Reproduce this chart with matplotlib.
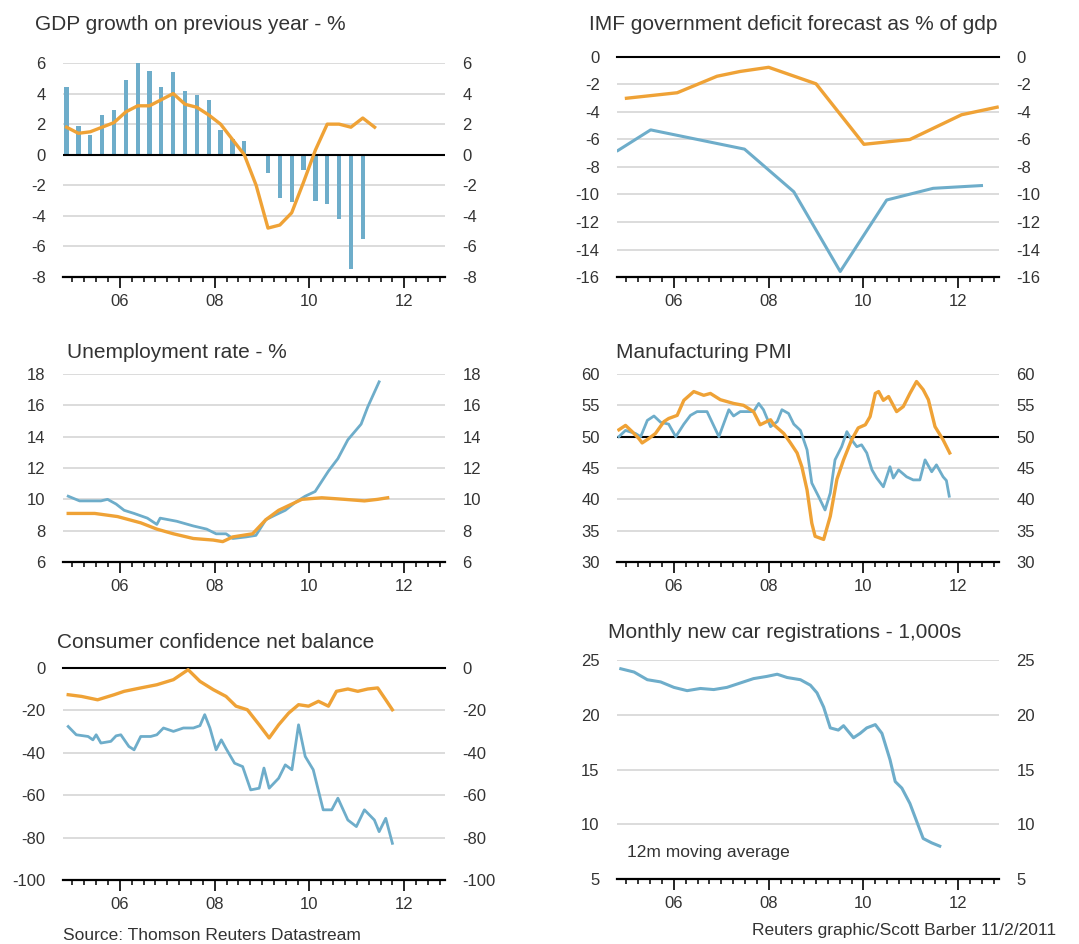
"""Six-panel economic dashboard (Reuters style)."""
import matplotlib
import numpy as np

matplotlib.use('Agg')
import matplotlib.pyplot as plt

plt.rcParams['font.family'] = ['Liberation Sans', 'DejaVu Sans']
plt.rcParams['axes.unicode_minus'] = False

BLUE = '#6eadca'
ORANGE = '#efa236'
TXT = '#333333'

# --- GDP growth on previous year (quarterly) ---
gdp_start = 2004.875
gdp_bars = [4.4, 1.9, 1.3, 2.6, 2.9, 4.9, 6.0, 5.5, 4.4, 5.4, 4.2, 3.9, 3.6,
            1.6, 1.05, 0.9, 0.0, -1.2, -2.8, -3.1, -1.0, -3.0, -3.2, -4.2, -7.5, -5.5]
gdp_line = [1.8, 1.4, 1.5, 1.8, 2.1, 2.8, 3.2, 3.2, 3.6, 4.0, 3.3, 3.1, 2.6,
            2.0, 1.0, 0.0, -2.0, -4.8, -4.6, -3.8, -1.8, 0.3, 2.0, 2.0, 1.8, 2.4, 1.8]

# --- IMF government deficit forecast ---
imf_orange_x = [2005.0, 2006.07, 2006.91, 2007.4, 2008.0, 2009.0, 2010.01, 2010.98, 2012.07, 2012.82]
imf_orange_y = [-3.0, -2.6, -1.4, -1.05, -0.75, -1.95, -6.35, -6.0, -4.2, -3.65]
imf_blue_x = [2004.82, 2005.51, 2007.49, 2008.53, 2009.51, 2010.49, 2011.47, 2012.49]
imf_blue_y = [-6.8, -5.3, -6.7, -9.8, -15.6, -10.4, -9.55, -9.35]

# --- Unemployment rate ---
unemp_blue_x = [2004.91, 2005.15, 2005.6, 2005.74, 2005.92, 2006.09, 2006.3, 2006.58, 2006.78,
                2006.85, 2007.2, 2007.55, 2007.83, 2008.03, 2008.24, 2008.38, 2008.66, 2008.87,
                2009.08, 2009.28, 2009.49, 2009.7, 2009.91, 2010.12, 2010.4, 2010.6, 2010.81,
                2011.09, 2011.23, 2011.47]
unemp_blue_y = [10.2, 9.9, 9.9, 10.0, 9.7, 9.3, 9.1, 8.8, 8.4, 8.8, 8.6, 8.3, 8.1, 7.8, 7.8,
                7.5, 7.6, 7.7, 8.7, 9.0, 9.3, 9.8, 10.2, 10.5, 11.8, 12.6, 13.8, 14.8, 15.9, 17.5]
unemp_orange_x = [2004.91, 2005.47, 2005.95, 2006.44, 2006.78, 2007.13, 2007.55, 2007.97, 2008.17,
                  2008.38, 2008.8, 2009.08, 2009.35, 2009.63, 2009.84, 2010.26, 2010.74, 2011.16,
                  2011.44, 2011.65]
unemp_orange_y = [9.1, 9.1, 8.9, 8.5, 8.1, 7.8, 7.5, 7.4, 7.3, 7.6, 7.8, 8.7, 9.3, 9.7, 10.0,
                  10.1, 10.0, 9.9, 10.0, 10.1]

# --- Manufacturing PMI ---
pmi_blue_x = [2004.84, 2004.98, 2005.19, 2005.3, 2005.44, 2005.58, 2005.72, 2005.89, 2006.04,
              2006.21, 2006.35, 2006.49, 2006.7, 2006.95, 2007.16, 2007.26, 2007.4, 2007.68,
              2007.79, 2007.89, 2008.04, 2008.18, 2008.28, 2008.42, 2008.53, 2008.67, 2008.81,
              2008.91, 2009.05, 2009.19, 2009.3, 2009.4, 2009.54, 2009.65, 2009.75, 2009.86,
              2009.96, 2010.07, 2010.18, 2010.28, 2010.42, 2010.56, 2010.63, 2010.74, 2010.91,
              2011.05, 2011.19, 2011.3, 2011.44, 2011.54, 2011.68, 2011.75, 2011.81]
pmi_blue_y = [50.0, 51.0, 50.5, 50.0, 52.6, 53.3, 52.3, 52.0, 50.0, 52.0, 53.4, 54.0, 54.0,
              50.0, 54.3, 53.3, 54.0, 54.0, 55.3, 54.3, 51.6, 52.4, 54.3, 53.7, 52.0, 51.0,
              47.9, 42.6, 40.5, 38.3, 41.0, 46.3, 48.4, 50.8, 49.5, 48.4, 48.7, 47.4, 44.7,
              43.4, 42.0, 45.2, 43.4, 44.7, 43.6, 43.1, 43.1, 46.3, 44.4, 45.5, 43.6, 43.0, 40.5]
pmi_orange_x = [2004.84, 2004.98, 2005.12, 2005.26, 2005.33, 2005.47, 2005.61, 2005.79, 2005.89,
                2006.07, 2006.21, 2006.42, 2006.63, 2006.77, 2006.98, 2007.26, 2007.47, 2007.68,
                2007.82, 2008.04, 2008.11, 2008.32, 2008.46, 2008.6, 2008.7, 2008.81, 2008.91,
                2008.98, 2009.16, 2009.3, 2009.44, 2009.58, 2009.75, 2009.89, 2010.04, 2010.14,
                2010.25, 2010.32, 2010.42, 2010.53, 2010.7, 2010.84, 2010.98, 2011.12, 2011.26,
                2011.37, 2011.51, 2011.68, 2011.82]
pmi_orange_y = [51.1, 51.8, 50.8, 49.7, 49.0, 49.7, 50.5, 52.4, 52.9, 53.4, 55.8, 57.2, 56.6,
                56.9, 55.9, 55.3, 55.0, 54.0, 51.9, 52.7, 51.9, 50.5, 49.0, 47.4, 45.2, 41.5,
                36.2, 34.1, 33.6, 37.3, 43.2, 46.3, 49.5, 51.4, 51.9, 53.2, 56.9, 57.2, 55.8,
                56.4, 54.0, 54.8, 56.9, 58.8, 57.5, 55.9, 51.6, 49.5, 47.4]

# --- Consumer confidence net balance ---
conf_orange_x = [2004.91, 2005.19, 2005.53, 2005.88, 2006.09, 2006.44, 2006.78, 2007.13, 2007.44,
                 2007.69, 2007.97, 2008.24, 2008.45, 2008.69, 2008.94, 2009.15, 2009.35, 2009.56,
                 2009.77, 2009.98, 2010.19, 2010.4, 2010.57, 2010.81, 2011.02, 2011.23, 2011.44,
                 2011.61, 2011.75]
conf_orange_y = [-12.6, -13.4, -15.0, -12.6, -11.0, -9.4, -7.9, -5.5, -0.8, -6.3, -10.2, -13.4,
                 -18.0, -19.7, -26.8, -33.0, -26.8, -21.3, -17.3, -18.0, -15.7, -18.0, -11.0,
                 -9.9, -11.0, -9.9, -9.4, -15.0, -19.7]
conf_blue_x = [2004.91, 2005.08, 2005.33, 2005.43, 2005.5, 2005.6, 2005.81, 2005.92, 2006.02,
               2006.19, 2006.3, 2006.44, 2006.65, 2006.78, 2006.92, 2007.13, 2007.34, 2007.55,
               2007.69, 2007.79, 2007.9, 2008.03, 2008.14, 2008.24, 2008.42, 2008.59, 2008.76,
               2008.94, 2009.04, 2009.15, 2009.35, 2009.49, 2009.63, 2009.77, 2009.91, 2010.08,
               2010.29, 2010.47, 2010.6, 2010.81, 2010.99, 2011.16, 2011.37, 2011.47, 2011.61,
               2011.75]
conf_blue_y = [-27.6, -31.5, -32.3, -33.9, -31.5, -35.4, -34.6, -32.0, -31.5, -37.0, -38.6,
               -32.3, -32.3, -31.5, -28.3, -29.9, -28.3, -28.3, -27.2, -22.0, -28.3, -38.6,
               -33.9, -38.0, -44.9, -46.5, -57.5, -56.7, -47.2, -56.7, -52.0, -45.7, -48.0,
               -26.8, -41.7, -48.0, -66.9, -66.9, -61.4, -71.7, -74.8, -66.9, -71.7, -77.2,
               -70.9, -82.7]

# --- Monthly new car registrations ---
cars_x = [2004.88, 2005.16, 2005.44, 2005.72, 2006.0, 2006.28, 2006.56, 2006.84, 2007.12,
          2007.4, 2007.68, 2007.96, 2008.18, 2008.39, 2008.67, 2008.88, 2009.02, 2009.16,
          2009.3, 2009.47, 2009.58, 2009.79, 2009.93, 2010.07, 2010.25, 2010.39, 2010.56,
          2010.67, 2010.81, 2010.98, 2011.12, 2011.26, 2011.44, 2011.61]
cars_y = [24.2, 23.9, 23.2, 23.0, 22.5, 22.2, 22.4, 22.3, 22.5, 22.9, 23.3, 23.5, 23.7, 23.4,
          23.2, 22.7, 22.0, 20.7, 18.8, 18.6, 19.0, 17.9, 18.3, 18.8, 19.1, 18.3, 15.9, 13.9,
          13.3, 11.9, 10.3, 8.7, 8.3, 8.0]

W, H = 1079, 944
fig = plt.figure(figsize=(W / 100, H / 100), dpi=100)


def make_axes(left, right, top, bottom, ylim, yticks, title, title_xy):
    ax = fig.add_axes([left / W, 1 - bottom / H, (right - left) / W, (bottom - top) / H])
    ax.set_xlim(2004.8, 2012.86)
    ax.set_ylim(*ylim)
    ax.set_yticks(yticks)
    for side in ('top', 'left', 'right'):
        ax.spines[side].set_visible(False)
    ax.spines['bottom'].set_color('black')
    ax.spines['bottom'].set_linewidth(1.6)
    ax.set_xticks([2006, 2008, 2010, 2012])
    ax.set_xticklabels(['06', '08', '10', '12'])
    ax.set_xticks(np.arange(2005, 2012.9, 0.25), minor=True)
    ax.tick_params(axis='x', which='major', length=8, width=1.2, direction='out',
                   labelsize=12, labelcolor=TXT, pad=4)
    ax.tick_params(axis='x', which='minor', length=3.8, width=1.1, direction='out')
    ax.tick_params(axis='y', which='both', length=0, labelsize=12, labelcolor=TXT,
                   labelleft=True, labelright=True, pad=12.5)
    ax.yaxis.grid(True, color='#d6d6d6', linewidth=1.2, zorder=0)
    ax.set_axisbelow(True)
    fig.text(title_xy[0] / W, 1 - title_xy[1] / H, title, fontsize=15, color=TXT,
             ha='left', va='center')
    return ax


# Panel 1: GDP
ax1 = make_axes(63, 445, 63, 277, (-8, 6), range(-8, 7, 2),
                'GDP growth on previous year - %', (35, 25))
gdp_bar_x = gdp_start + 0.25 * np.arange(len(gdp_bars))
gdp_line_x = gdp_start + 0.25 * np.arange(len(gdp_line))
ax1.bar(gdp_bar_x, gdp_bars, width=0.09, color=BLUE, zorder=2)
ax1.axhline(0, color='black', linewidth=1.5, zorder=3)
ax1.plot(gdp_line_x, gdp_line, color=ORANGE, linewidth=2.4, zorder=4)

# Panel 2: IMF deficit
ax2 = make_axes(617, 999, 57, 277, (-16, 0), range(-16, 1, 2),
                'IMF government deficit forecast as % of gdp', (589, 25))
ax2.axhline(0, color='black', linewidth=1.5, zorder=3, clip_on=False)
ax2.plot(imf_orange_x, imf_orange_y, color=ORANGE, linewidth=2.4, zorder=4)
ax2.plot(imf_blue_x, imf_blue_y, color=BLUE, linewidth=2.2, zorder=4)

# Panel 3: Unemployment
ax3 = make_axes(63, 445, 374, 562, (6, 18), range(6, 19, 2),
                'Unemployment rate - %', (67, 352))
ax3.plot(unemp_blue_x, unemp_blue_y, color=BLUE, linewidth=2, zorder=4, clip_on=False)
ax3.plot(unemp_orange_x, unemp_orange_y, color=ORANGE, linewidth=2.4, zorder=4)

# Panel 4: PMI
ax4 = make_axes(617, 999, 374, 562, (30, 60), range(30, 61, 5),
                'Manufacturing PMI', (616, 352))
ax4.axhline(50, color='black', linewidth=1.5, zorder=3)
ax4.plot(pmi_blue_x, pmi_blue_y, color=BLUE, linewidth=2, zorder=4)
ax4.plot(pmi_orange_x, pmi_orange_y, color=ORANGE, linewidth=2.4, zorder=5)

# Panel 5: Consumer confidence
ax5 = make_axes(63, 445, 668, 880, (-100, 0), range(-100, 1, 20),
                'Consumer confidence net balance', (57, 642))
ax5.axhline(0, color='black', linewidth=1.5, zorder=3, clip_on=False)
ax5.plot(conf_orange_x, conf_orange_y, color=ORANGE, linewidth=2.4, zorder=4, clip_on=False)
ax5.plot(conf_blue_x, conf_blue_y, color=BLUE, linewidth=2, zorder=4)

# Panel 6: Car registrations
ax6 = make_axes(617, 999, 660, 879, (5, 25), range(5, 26, 5),
                'Monthly new car registrations - 1,000s', (608, 633))
ax6.plot(cars_x, cars_y, color=BLUE, linewidth=2.2, zorder=4)
ax6.text(2005.02, 7.4, '12m moving average', fontsize=12.5, color=TXT, ha='left', va='center')

fig.text(63 / W, 1 - 936 / H, 'Source: Thomson Reuters Datastream', fontsize=12.5,
         color=TXT, ha='left', va='center')
fig.text(1056 / W, 1 - 931 / H, 'Reuters graphic/Scott Barber 11/2/2011', fontsize=12.5,
         color=TXT, ha='right', va='center')

fig.savefig('out.png', dpi=100, facecolor='white')
